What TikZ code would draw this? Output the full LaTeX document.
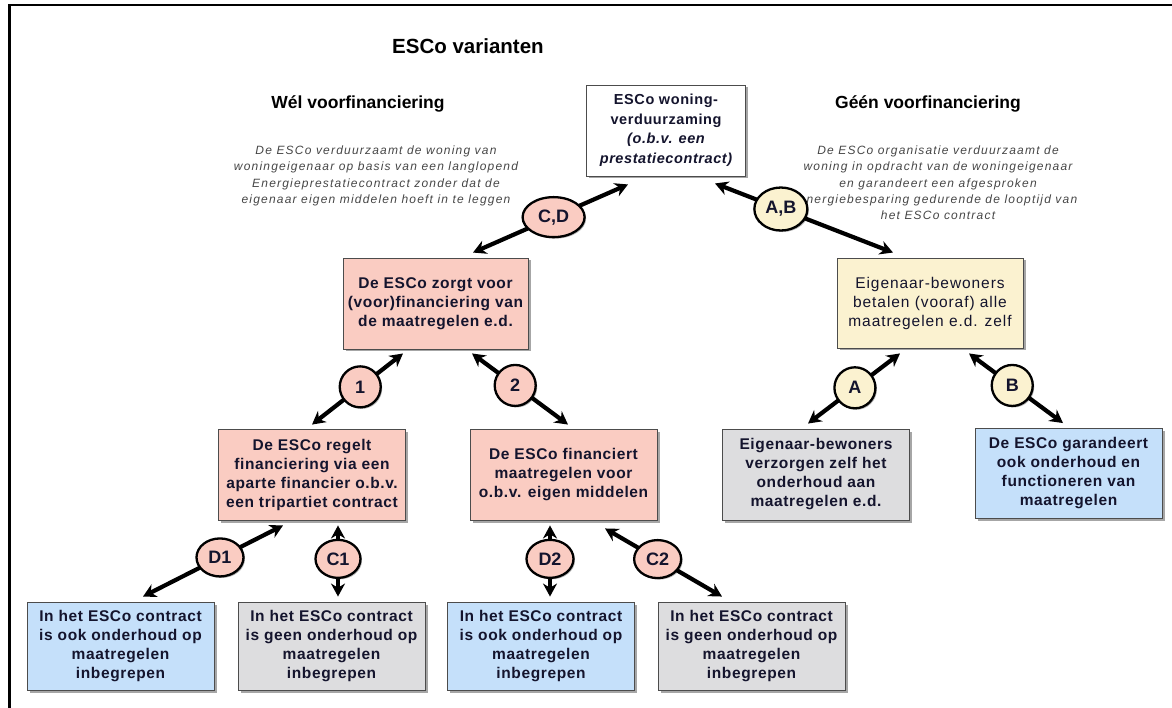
\documentclass[tikz,border=0pt]{standalone}
\usepackage{fontspec}
\setmainfont{Liberation Sans}
\newfontfamily\boxfont[LetterSpace=4]{Liberation Sans}
\newfontfamily\creamfont[LetterSpace=6]{Liberation Sans}
\newfontfamily\notefont[LetterSpace=10]{Liberation Sans}
\usetikzlibrary{shapes.geometric,arrows.meta,calc,shadows}

\definecolor{salmon}{RGB}{250,204,194}
\definecolor{cream}{RGB}{251,242,208}
\definecolor{paleblue}{RGB}{197,224,250}
\definecolor{palegray}{RGB}{221,221,223}
\definecolor{inkgray}{RGB}{70,70,70}
\definecolor{boxink}{RGB}{20,20,45}

\tikzset{
  box/.style={draw=black!70, line width=0.9pt, minimum width=187pt, minimum height=90pt,
    align=center, inner sep=2pt, text=boxink,
    font=\boxfont\bfseries\fontsize{15.5}{19}\selectfont,
    drop shadow={shadow xshift=2.5pt, shadow yshift=-2.5pt, fill=black, opacity=0.35}},
  tag/.style={ellipse, draw=black, line width=2.3pt, inner sep=0pt, text=boxink,
    minimum width=47pt, minimum height=38pt,
    font=\bfseries\fontsize{18}{18}\selectfont,
    drop shadow={shadow xshift=1.5pt, shadow yshift=-1.5pt, fill=black, opacity=0.3}},
  link/.style={line width=4.2pt,
    {Stealth[length=13pt,width=14pt]}-{Stealth[length=13pt,width=14pt]}},
  heading/.style={font=\bfseries\fontsize{17.5}{20}\selectfont},
  note/.style={align=center, text=inkgray, font=\notefont\itshape\fontsize{12}{16.3}\selectfont},
}

\begin{document}
\begin{tikzpicture}[x=1pt,y=-1pt]
\useasboundingbox (0,0) rectangle (1172,708);

% frame edges
\draw[line width=2.5pt] (9.5,708) -- (9.5,5) -- (1172,5);

% headings and notes
\node[font=\bfseries\fontsize{20.5}{22}\selectfont] (title) at (468,46) {ESCo varianten};
\node[heading] (wel) at (358,104) {Wél voorfinanciering};
\node[heading] (geen) at (928,104) {Géén voorfinanciering};
\node[note] (notel) at (376,176) {De ESCo verduurzaamt de woning van\\woningeigenaar op basis van een langlopend\\Energieprestatiecontract zonder dat de\\eigenaar eigen middelen hoeft in te leggen};
\node[note] (noter) at (938,183) {De ESCo organisatie verduurzaamt de\\woning in opdracht van de woningeigenaar\\en garandeert een afgesproken\\energiebesparing gedurende de looptijd van\\het ESCo contract};

% boxes
\node[box, fill=white, minimum width=159pt, minimum height=91pt,
  font=\boxfont\bfseries\fontsize{14.5}{19.5}\selectfont] (top) at (666,130.5)
  {ESCo woning-\\verduurzaming\\\itshape(o.b.v. een\\\itshape prestatiecontract)};
\node[box, fill=salmon, minimum width=185pt, minimum height=91pt] (cd) at (435.5,303.5)
  {De ESCo zorgt voor\\(voor)financiering van\\de maatregelen e.d.};
\node[box, fill=cream, minimum width=186pt, font=\creamfont\fontsize{15.5}{19}\selectfont] (ab) at (930,303)
  {Eigenaar-bewoners\\betalen (vooraf) alle\\maatregelen e.d. zelf};
\node[box, fill=salmon, minimum height=91pt] (b1) at (312,474.5)
  {De ESCo regelt\\financiering via een\\aparte financier o.b.v.\\een tripartiet contract};
\node[box, fill=salmon, minimum height=91pt] (b2) at (563.5,474.5)
  {De ESCo financiert\\maatregelen voor\\o.b.v. eigen middelen};
\node[box, fill=palegray, minimum height=91pt] (ga) at (816,474.5)
  {Eigenaar-bewoners\\verzorgen zelf het\\onderhoud aan\\maatregelen e.d.};
\node[box, fill=paleblue] (bb) at (1068.5,473.5)
  {De ESCo garandeert\\ook onderhoud en\\functioneren van\\maatregelen};
\node[box, fill=paleblue, minimum height=88pt] (d1) at (120.5,646)
  {In het ESCo contract\\is ook onderhoud op\\maatregelen\\inbegrepen};
\node[box, fill=palegray, minimum height=88pt] (c1) at (331.5,646)
  {In het ESCo contract\\is geen onderhoud op\\maatregelen\\inbegrepen};
\node[box, fill=paleblue, minimum height=88pt] (d2) at (541,646)
  {In het ESCo contract\\is ook onderhoud op\\maatregelen\\inbegrepen};
\node[box, fill=palegray, minimum height=88pt] (c2) at (751.5,646)
  {In het ESCo contract\\is geen onderhoud op\\maatregelen\\inbegrepen};

% arrow ends near the boxes
\coordinate (cdT) at ($(top.south)+(-38,8)$);
\coordinate (cdB) at ($(cd.north)+(37.5,-5)$);
\coordinate (abT) at ($(top.south)+(49,7)$);
\coordinate (abB) at ($(ab.north)+(-37,-5)$);
\coordinate (oneT) at ($(cd.south)+(-32.5,4)$);
\coordinate (oneB) at ($(b1.north)+(0,-4)$);
\coordinate (twoT) at ($(cd.south)+(36.5,4)$);
\coordinate (twoB) at ($(b2.north)+(4.5,-4)$);
\coordinate (aT) at ($(ab.south)+(-30,5)$);
\coordinate (aB) at ($(ga.north)+(-8,-5)$);
\coordinate (bT) at ($(ab.south)+(39,5)$);
\coordinate (bB) at ($(bb.north)+(-5.5,-5)$);
\coordinate (d1T) at ($(b1.south)+(-29,5)$);
\coordinate (d1B) at ($(d1.north)+(22.5,-5)$);
\coordinate (c1T) at ($(b1.south)+(26,5)$);
\coordinate (c1B) at ($(c1.north)+(6.5,-5)$);
\coordinate (d2T) at ($(b2.south)+(-13.5,5)$);
\coordinate (d2B) at ($(d2.north)+(9,-5)$);
\coordinate (c2T) at ($(b2.south)+(41.5,8)$);
\coordinate (c2B) at ($(c2.north)+(-29.5,-5)$);

% connectors with their labels
\draw[link] (cdT) -- node[tag, fill=salmon, pos=0.48, minimum width=62pt, minimum height=40pt] (lcd) {C,D} (cdB);
\draw[link] (abT) -- node[tag, fill=cream, pos=0.37, minimum width=53pt, minimum height=43pt] (lab) {A,B} (abB);
\draw[link] (oneT) -- node[tag, fill=salmon, pos=0.47, minimum width=41pt, minimum height=41pt] (l1) {1} (oneB);
\draw[link] (twoT) -- node[tag, fill=salmon, pos=0.45, minimum width=41pt, minimum height=41pt] (l2) {2} (twoB);
\draw[link] (aT) -- node[tag, fill=cream, pos=0.49, minimum width=41pt, minimum height=41pt] (la) {A} (aB);
\draw[link] (bT) -- node[tag, fill=cream, pos=0.46, minimum width=41pt, minimum height=41pt] (lb) {B} (bB);
\draw[link] (d1T) -- node[tag, fill=salmon, pos=0.45] (ld1) {D1} (d1B);
\draw[link] (c1T) -- node[tag, fill=salmon, pos=0.47, minimum width=45pt] (lc1) {C1} (c1B);
\draw[link] (d2T) -- node[tag, fill=salmon, pos=0.47] (ld2) {D2} (d2B);
\draw[link] (c2T) -- node[tag, fill=salmon, pos=0.45] (lc2) {C2} (c2B);
\end{tikzpicture}
\end{document}
